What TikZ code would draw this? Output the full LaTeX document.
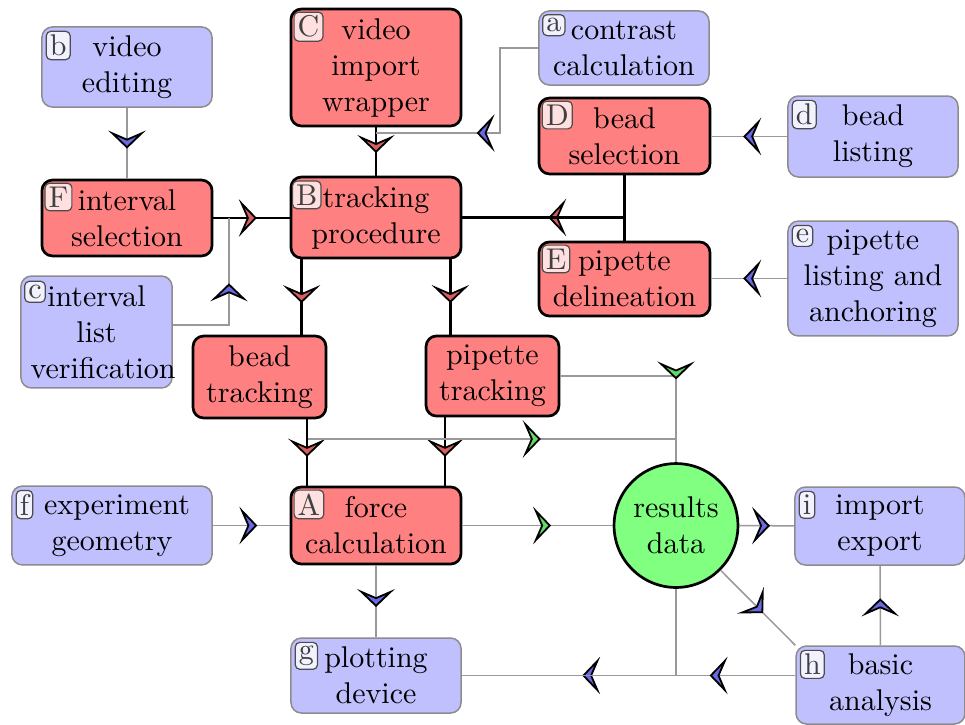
\documentclass[tikz,border=0pt]{standalone}
\usetikzlibrary{arrows.meta,decorations.markings,calc}
\definecolor{redfill}{RGB}{255,128,128}
\definecolor{bluefill}{RGB}{192,192,255}
\definecolor{greenfill}{RGB}{128,255,128}
\definecolor{arrR}{RGB}{215,95,95}
\definecolor{arrB}{RGB}{105,105,225}
\definecolor{arrG}{RGB}{100,215,100}
\tikzset{
 redbox/.style={draw=black, line width=0.9pt, fill=redfill, rounded corners=3.5pt, align=center, inner sep=1pt, minimum width=56.7pt},
 bluebox/.style={draw=black!45, line width=0.5pt, fill=bluefill, rounded corners=3.5pt, align=center, inner sep=1pt, minimum width=56.7pt},
 reslt/.style={circle, draw=black, line width=0.9pt, fill=greenfill, align=center, minimum size=41.3pt, inner sep=0pt},
 labr/.style={draw=black!70, line width=0.4pt, rounded corners=1.5pt, inner sep=1.2pt, text=black!75, fill=red!12, anchor=north west},
 labb/.style={labr, fill=blue!5},
 thickc/.style={draw=black, line width=0.9pt},
 thinc/.style={draw=black!40, line width=0.5pt},
 mk/.style 2 args={postaction={decorate}, decoration={markings, mark=at position #1 with {\arrow{Stealth[length=6pt,width=12.5pt,inset=2.7pt,fill=#2,color=black,line width=0.6pt]}}}},
}
\begin{document}
\begin{tikzpicture}[x=0.33333pt,y=-0.33333pt]
\useasboundingbox (0,0) rectangle (965,724);
% red boxes
\node[redbox, minimum height=39pt] (C) at (376,67.5) {video\\import\\wrapper};
\node[redbox, minimum height=27pt] (B) at (376,217.5) {tracking\\procedure};
\node[redbox, minimum height=25.3pt] (F) at (127,218) {interval\\selection};
\node[redbox, minimum height=25.3pt, minimum width=57pt] (D) at (624.5,136) {bead\\selection};
\node[redbox, minimum height=24.7pt, minimum width=57pt] (E) at (624.5,279) {pipette\\delineation};
\node[redbox, minimum height=27.3pt, minimum width=44.3pt] (bt) at (259.5,377) {bead\\tracking};
\node[redbox, minimum height=26.7pt, minimum width=44.3pt] (pt) at (492.5,376) {pipette\\tracking};
\node[redbox, minimum height=25.7pt] (A) at (376,525.5) {force\\calculation};
% blue boxes
\node[bluebox, minimum height=26.7pt] (b) at (127,67) {video\\editing};
\node[bluebox, minimum height=24.7pt] (a) at (624,48) {contrast\\calculation};
\node[bluebox, minimum height=27pt] (d) at (873,136.5) {bead\\listing};
\node[bluebox, minimum height=38.3pt] (e) at (873,278.5) {pipette\\listing and\\anchoring};
\node[bluebox, minimum height=37.3pt, minimum width=50.3pt] (c) at (96.5,332) {interval\\list\\\hspace*{2.2pt}verification\hspace*{-2.2pt}};
\node[bluebox, minimum height=26.3pt, minimum width=66.7pt] (f) at (112,525.5) {\hspace*{1.7pt}experiment\hspace*{-1.7pt}\\geometry};
\node[bluebox, minimum height=25pt] (g) at (376,675.5) {plotting\\device};
\node[bluebox, minimum height=26pt] (i) at (880,526) {import\\export};
\node[bluebox, minimum height=26pt, minimum width=56.3pt] (h) at (880.5,685) {basic\\analysis};
% results
\node[reslt] (res) at (676,525.5) {results\\data};
% letter labels
\node[labr] (Cl) at ([shift={(1.3pt,-1.3pt)}]C.north west) {C};
\node[labr] (Bl) at ([shift={(0.8pt,-1.6pt)}]B.north west) {B};
\node[labr] (Fl) at ([shift={(1.3pt,-1.3pt)}]F.north west) {F};
\node[labr] (Dl) at ([shift={(1.3pt,-1.3pt)}]D.north west) {D};
\node[labr] (El) at ([shift={(1.3pt,-1.3pt)}]E.north west) {E};
\node[labr] (Al) at ([shift={(1.3pt,-1.3pt)}]A.north west) {A};
\node[labb] (bl) at ([shift={(1.5pt,-1.5pt)}]b.north west) {b};
\node[labb] (al) at ([shift={(1.3pt,-1.3pt)}]a.north west) {a};
\node[labb] (dl) at ([shift={(1.5pt,-1.5pt)}]d.north west) {d};
\node[labb] (el) at ([shift={(1.5pt,-1.5pt)}]e.north west) {e};
\node[labb] (cl) at ([shift={(1.3pt,-1.8pt)}]c.north west) {c};
\node[labb] (fl) at ([shift={(1.5pt,-1.5pt)}]f.north west) {f};
\node[labb] (gl) at ([shift={(1.5pt,-1.5pt)}]g.north west) {g};
\node[labb] (il) at ([shift={(1.5pt,-1.5pt)}]i.north west) {i};
\node[labb] (hl) at ([shift={(1.5pt,-1.5pt)}]h.north west) {h};
% junction coordinates
\coordinate (aj) at (376,133);
\coordinate (ak) at (500,133);
\coordinate (cj) at (229,218);
\coordinate (j1) at (308,439);
% connectors
\draw[thinc, mk={0.575}{arrB}] (b) -- (F);
\draw[thickc, mk={0.53}{arrR}] (C) -- (B);
\draw[thinc, mk={0.593}{arrB}] (a.west) -| (ak) -- (aj);
\draw[thickc, mk={0.57}{arrR}] (F.east) -- (F.east -| B.west);
\draw[thinc, mk={0.6}{arrB}] ([yshift=2.3pt]c.east) -| (cj);
\draw[thickc, mk={0.58}{arrR}] (D.south) |- (B.east);
\draw[thickc] (E.north) |- (B.east);
\draw[thinc, mk={0.58}{arrB}] (d.west) -- (d.west -| D.east);
\draw[thinc, mk={0.58}{arrB}] (e.west) -- (e.west -| E.east);
\draw[thickc, mk={0.58}{arrR}] ([xshift=4pt]B.south west) -- ([xshift=4pt]B.south west |- bt.north);
\draw[thickc, mk={0.58}{arrR}] ([xshift=-4pt]B.south east) -- ([xshift=-4pt]B.south east |- pt.north);
\draw[thickc, mk={0.565}{arrR}] ([xshift=5.8pt]A.north west |- bt.south) -- ([xshift=5.8pt]A.north west);
\draw[thickc, mk={0.577}{arrR}] ([xshift=-5.8pt]A.north east |- pt.south) -- ([xshift=-5.8pt]A.north east);
\draw[thinc, mk={0.595}{arrG}] (j1) -| (res.north);
\draw[thinc, mk={0.59}{arrG}] (pt.east) -| (res.north);
\draw[thinc, mk={0.59}{arrG}] (A) -- (res);
\draw[thinc, mk={0.58}{arrB}] (f) -- (A);
\draw[thinc, mk={0.58}{arrB}] (A) -- (g);
\draw[thinc, mk={0.56}{arrB}] (res) -- (i);
\draw[thinc, mk={0.57}{arrB}] (res) -- (h.north west);
\draw[thinc, mk={0.59}{arrB}] (h) -- (i);
\draw[thinc, mk={0.6}{arrB}] (res.south) |- (g.east);
\draw[thinc, mk={0.257}{arrB}] (h.west |- g.east) -- (g.east);
\end{tikzpicture}
\end{document}
